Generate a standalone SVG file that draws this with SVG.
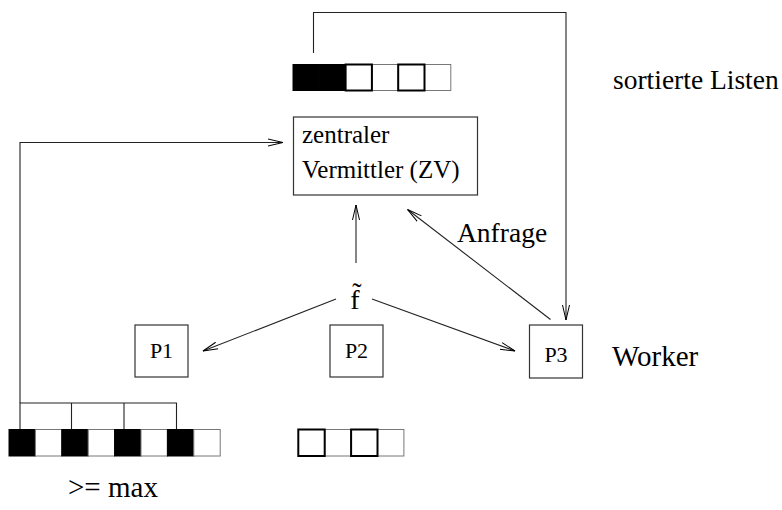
<svg xmlns="http://www.w3.org/2000/svg" width="782" height="510" viewBox="0 0 782 510">
<defs>
<marker id="arr" markerUnits="userSpaceOnUse" markerWidth="17" markerHeight="10" refX="15" refY="5" orient="auto">
<path d="M0,1.5 L15,5 L0,8.5" fill="none" stroke="#000" stroke-width="1"/>
</marker>
<style>
.ln{fill:none;stroke:#222;stroke-width:1.1}
.box{fill:#fff;stroke:#333;stroke-width:1.2}
.blk{fill:#000;stroke:#000;stroke-width:1}
.thk{fill:#fff;stroke:#000;stroke-width:2}
.thn{fill:#fff;stroke:#777;stroke-width:1}
.t{font-family:"Liberation Serif","Times New Roman",serif;fill:#000}
</style>
</defs>
<rect width="782" height="510" fill="#fff"/>
<g id="connectors">
<polyline class="ln" points="313.5,53 313.5,12.5 566,12.5 566,320" marker-end="url(#arr)"/>
<polyline class="ln" points="20,403 20,142.5 283,142.5" marker-end="url(#arr)"/>
<line class="ln" x1="356" y1="263" x2="356" y2="205" marker-end="url(#arr)"/>
<line class="ln" x1="550.5" y1="319.5" x2="407.5" y2="209.5" marker-end="url(#arr)"/>
<line class="ln" x1="336" y1="299" x2="203" y2="351" marker-end="url(#arr)"/>
<line class="ln" x1="372" y1="299" x2="515" y2="351" marker-end="url(#arr)"/>
<polyline class="ln" points="20,429 20,403 176.5,403 176.5,429"/>
<line class="ln" x1="71.5" y1="403" x2="71.5" y2="429"/>
<line class="ln" x1="124" y1="403" x2="124" y2="429"/>
</g>
<g id="topList">
<rect class="blk" x="293" y="64.5" width="26.3" height="26"/>
<rect class="blk" x="319.3" y="64.5" width="26.3" height="26"/>
<rect class="thn" x="371.9" y="64.5" width="26.3" height="26"/>
<rect class="thn" x="424.5" y="64.5" width="26.3" height="26"/>
<rect class="thk" x="345.6" y="64.5" width="26.3" height="26"/>
<rect class="thk" x="398.2" y="64.5" width="26.3" height="26"/>
</g>
<g id="ZV">
<rect class="box" x="293.5" y="117" width="184" height="78"/>
<text class="t" x="302" y="143" font-size="25">zentraler</text>
<text class="t" x="302" y="178" font-size="25">Vermittler (ZV)</text>
</g>
<g id="ftilde">
<text class="t" x="355" y="309" font-size="28" text-anchor="middle">f̃</text>
</g>
<g id="P1">
<rect class="box" x="135" y="325" width="53" height="52"/>
<text class="t" x="161.5" y="358" font-size="22" text-anchor="middle">P1</text>
</g>
<g id="P2">
<rect class="box" x="330" y="325" width="53" height="52"/>
<text class="t" x="356.5" y="358" font-size="22" text-anchor="middle">P2</text>
</g>
<g id="P3">
<rect class="box" x="529.5" y="325" width="53" height="53"/>
<text class="t" x="556" y="362" font-size="22" text-anchor="middle">P3</text>
</g>
<g id="bottomList1">
<rect class="blk" x="9" y="429.5" width="26.4" height="26.5"/>
<rect class="thn" x="35.4" y="429.5" width="26.4" height="26.5"/>
<rect class="blk" x="61.8" y="429.5" width="26.4" height="26.5"/>
<rect class="thn" x="88.2" y="429.5" width="26.4" height="26.5"/>
<rect class="blk" x="114.6" y="429.5" width="26.4" height="26.5"/>
<rect class="thn" x="141" y="429.5" width="26.4" height="26.5"/>
<rect class="blk" x="167.4" y="429.5" width="26.4" height="26.5"/>
<rect class="thn" x="193.8" y="429.5" width="26.4" height="26.5"/>
</g>
<g id="bottomList2">
<rect class="thn" x="324.7" y="429.5" width="26.4" height="26.5"/>
<rect class="thn" x="377.5" y="429.5" width="26.4" height="26.5"/>
<rect class="thk" x="298.3" y="429.5" width="26.4" height="26.5"/>
<rect class="thk" x="351.1" y="429.5" width="26.4" height="26.5"/>
</g>
<g id="labels">
<text class="t" x="613" y="89" font-size="27.5">sortierte Listen</text>
<text class="t" x="457" y="242" font-size="27.5">Anfrage</text>
<text class="t" x="612" y="366" font-size="29">Worker</text>
<text class="t" x="68" y="497" font-size="29">&gt;= max</text>
</g>
</svg>
